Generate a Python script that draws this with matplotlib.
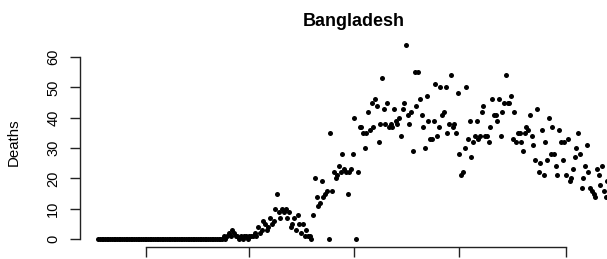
"""
plot.py: daily deaths scatter for Bangladesh (base-R look)
"""

import pandas as pd
import matplotlib
matplotlib.use("Agg")
import matplotlib.pyplot as plt
import matplotlib.dates as mdates

plt.rcParams['font.family'] = ['Liberation Sans', 'DejaVu Sans']

# ── Data (one value per day) ─────────────────────────────────────────────────
start_date = "2019-12-04"

deaths_quiet = [
    0, 0, 0, 0, 0, 0, 0, 0, 0, 0, 0, 0, 0, 0, 0, 0, 0, 0, 0, 0,
    0, 0, 0, 0, 0, 0, 0, 0, 0, 0, 0, 0, 0, 0, 0, 0, 0, 0, 0, 0,
    0, 0, 0, 0, 0, 0, 0, 0, 0, 0, 0, 0, 0, 0, 0, 0, 0, 0, 0, 0,
    0, 0, 0, 0, 0, 0, 0, 0, 0, 0, 0, 0, 0,
    1, 0, 1, 2, 1, 3, 2, 1, 1, 0, 1, 0, 1, 1, 0, 1, 1,
]
deaths_first_bump = [
    1, 2, 1, 4, 2, 3, 6, 5, 3, 4, 7, 5, 6, 10, 15, 9, 7, 10, 9, 10,
    7, 9, 4, 5, 7, 3, 8, 5, 2, 5, 1, 3, 1, 1, 0,
]
deaths_rise = [
    8, 20, 14, 11, 12, 19, 14, 15, 16, 0, 35, 16, 22, 20, 21, 24, 22, 28, 23, 22,
    15, 22, 23, 28, 40, 0, 22, 37, 37, 35, 30, 35, 42, 36, 45, 37, 46, 44, 32, 38,
    53, 43, 38, 45, 37, 38, 37, 43, 39, 38,
]
deaths_plateau = [
    40, 34, 43, 45, 64, 41, 38, 42, 29, 55, 44, 55, 46, 41, 37, 30, 47, 39, 33, 33,
    39, 51, 34, 37, 50, 41, 42, 50, 35, 38, 54, 37, 38, 35, 48, 28, 21, 22, 30, 50,
    33, 39, 27, 32, 34, 39, 33, 34, 42, 44, 34, 34, 32, 37, 46, 41, 41, 39, 46, 34,
    42, 45, 54, 45, 45, 47, 33, 42, 32, 35, 35, 32, 29, 35, 37, 36, 41, 34, 31, 26,
    43, 22, 25, 36, 21, 32, 26, 40, 28, 37, 28, 24, 21, 36, 32, 26, 32, 21, 33, 19,
    20, 23, 27, 30, 35, 28, 17, 20, 24, 31, 22, 17, 16, 15, 14, 23, 21, 18, 24, 16,
    14, 19,
]
deaths = deaths_quiet + deaths_first_bump + deaths_rise + deaths_plateau
dates = pd.date_range(start_date, periods=len(deaths), freq="D")

tick_dates = pd.to_datetime(["2020-01-01", "2020-03-01", "2020-05-01",
                             "2020-07-01", "2020-09-01"])
y_ticks = [0, 10, 20, 30, 40, 50, 60]

# ── Plot ─────────────────────────────────────────────────────────────────────
W, H = 607, 259
fig = plt.figure(figsize=(W / 100, H / 100), dpi=100)
# plot region runs a little past the right edge (cropped like the reference)
ax = fig.add_axes([80 / W, 12 / H, 548 / W, 210 / H])

ax.plot(dates, deaths, "o", color="black", markersize=3.6,
        markeredgewidth=0, clip_on=False)

t0 = pd.Timestamp(start_date)
ax.set_xlim(t0 - pd.Timedelta(days=10.5), t0 + pd.Timedelta(days=308))
ax.set_ylim(-2.56, 66.56)

for side in ["top", "right"]:
    ax.spines[side].set_visible(False)
ax.spines["left"].set_bounds(0, 60)
ax.spines["bottom"].set_bounds(mdates.date2num(tick_dates[0]),
                               mdates.date2num(tick_dates[-1]))
for side in ["left", "bottom"]:
    ax.spines[side].set_linewidth(1.0)
    ax.spines[side].set_color("#222222")

ax.set_yticks(y_ticks)
ax.set_xticks(tick_dates)
ax.set_xticklabels([""] * len(tick_dates))
ax.tick_params(axis="both", direction="out", length=7.2, width=1.0,
               color="#222222", labelsize=10.5, pad=7)
plt.setp(ax.get_yticklabels(), rotation=90, va="center", ha="right")

ax.set_ylabel("Deaths", fontsize=10.8)
ax.yaxis.set_label_coords(-0.108, 0.5)
ax.set_title("Bangladesh", fontsize=13, fontweight="bold", pad=8)

fig.savefig("out.png", dpi=100)
